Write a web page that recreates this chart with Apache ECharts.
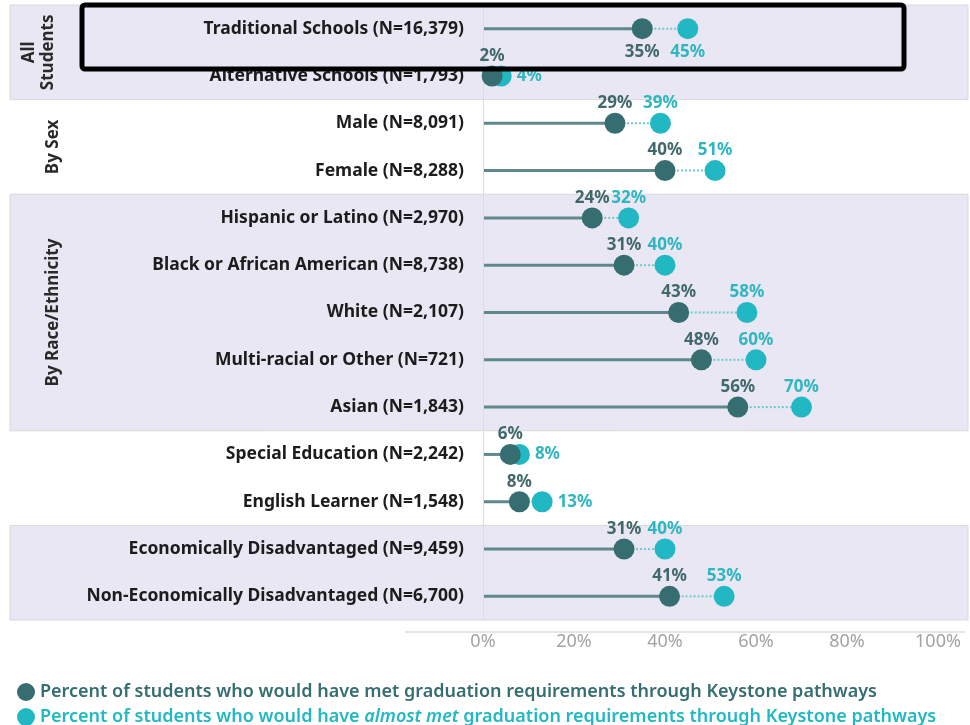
<!DOCTYPE html>
<html>
<head>
<meta charset="utf-8">
<script src="https://cdn.jsdelivr.net/npm/echarts@6/dist/echarts.min.js"></script>
<style>
  html, body { margin: 0; padding: 0; background: #fff; }
  #main { width: 970px; height: 725px; }
</style>
</head>
<body>
<div id="main"></div>
<script>
// rows, top to bottom
const categories = [
    'Traditional Schools (N=16,379)',
    'Alternative Schools (N=1,793)',
    'Male (N=8,091)',
    'Female (N=8,288)',
    'Hispanic or Latino (N=2,970)',
    'Black or African American (N=8,738)',
    'White (N=2,107)',
    'Multi-racial or Other (N=721)',
    'Asian (N=1,843)',
    'Special Education (N=2,242)',
    'English Learner (N=1,548)',
    'Economically Disadvantaged (N=9,459)',
    'Non-Economically Disadvantaged (N=6,700)'
];
const metValues    = [35, 2, 29, 40, 24, 31, 43, 48, 56, 6, 8, 31, 41];
const almostValues = [45, 4, 39, 51, 32, 40, 58, 60, 70, 8, 13, 40, 53];

// row groups (first row, last row, side label)
const groupNames = ['All\nStudents', 'By Sex', 'By Race/Ethnicity', '', ''];
const groupFrom  = [0, 2, 4, 9, 11];
const groupTo    = [1, 3, 8, 10, 12];

const metName = 'Percent of students who would have met graduation requirements through Keystone pathways';
const almostName = 'Percent of students who would have almost met graduation requirements through Keystone pathways';

const cMet = '#356d71';
const cAlmost = '#22b8c3';
const lavender = '#e9e7f3';

let myChart = echarts.init(document.getElementById('main'));

function labelFor(i, which) {
    let gap = almostValues[i] - metValues[i];
    if (i === 0) return {position: 'bottom', distance: 5};
    if (which === 'almost' && gap <= 5) return {position: 'right', distance: 5};
    return {position: 'top', distance: 1};
}

const metData = metValues.map(function (v, i) {
    return {value: [v, i], label: labelFor(i, 'met')};
});
const almostData = almostValues.map(function (v, i) {
    return {value: [v, i], label: labelFor(i, 'almost')};
});

const legendText = {
    fontSize: 18,
    fontWeight: 600,
    fontFamily: 'Noto Sans',
    rich: {
        i: {color: cAlmost, fontStyle: 'italic', fontSize: 18, fontWeight: 600, fontFamily: 'Noto Sans'}
    }
};

myChart.setOption({
    animation: false,
    grid: {left: 483, right: 32, top: 5, bottom: 105},
    xAxis: {
        type: 'value',
        min: 0, max: 100, interval: 20,
        axisLine: {show: false},
        axisTick: {show: false},
        splitLine: {show: false},
        axisLabel: {
            formatter: '{value}%',
            color: '#a3a3a3',
            fontSize: 18,
            fontFamily: 'Noto Sans',
            margin: 13
        }
    },
    yAxis: {
        type: 'category',
        inverse: true,
        data: categories,
        axisTick: {show: false},
        axisLine: {lineStyle: {color: '#dcdcdc', width: 1}},
        axisLabel: {
            color: '#1c1c1c',
            fontSize: 17.5,
            fontWeight: 'bold',
            fontFamily: 'Noto Sans',
            margin: 19
        },
        z: 5
    },
    legend: [
        {
            left: 12, top: 678,
            itemWidth: 18, itemHeight: 18, icon: 'circle',
            data: [{name: metName, textStyle: {color: cMet}}],
            textStyle: legendText
        },
        {
            left: 12, top: 703,
            itemWidth: 18, itemHeight: 18, icon: 'circle',
            data: [{name: almostName, textStyle: {color: cAlmost}}],
            formatter: function (name) {
                return name.replace('almost met', '{i|almost met}');
            },
            textStyle: legendText
        }
    ],
    graphic: [
        {
            type: 'line',
            shape: {x1: 405, y1: 632, x2: 965, y2: 632},
            style: {stroke: '#dddddd', lineWidth: 1.5},
            z: 1
        },
        {
            type: 'rect',
            shape: {x: 82, y: 5, width: 822, height: 64, r: 3},
            style: {fill: 'none', stroke: '#000', lineWidth: 5},
            z: 100
        }
    ],
    series: [
        {
            // group bands + side labels
            type: 'custom',
            silent: true,
            z: 0,
            clip: false,
            data: groupNames.map(function (n, i) { return [i]; }),
            renderItem: function (params, api) {
                let g = api.value(0);
                let h = api.size([0, 1])[1];
                let y0 = api.coord([0, groupFrom[g]])[1] - h / 2;
                let y1 = api.coord([0, groupTo[g]])[1] + h / 2;
                let children = [];
                if (g % 2 === 0) {
                    children.push({
                        type: 'rect',
                        shape: {x: 10, y: y0, width: 958, height: y1 - y0},
                        style: {fill: lavender, stroke: '#d9d9d9', lineWidth: 1}
                    });
                }
                if (groupNames[g]) {
                    children.push({
                        type: 'text',
                        x: groupNames[g].indexOf('\n') >= 0 ? 39 : 53,
                        y: (y0 + y1) / 2,
                        rotation: Math.PI / 2,
                        style: {
                            text: groupNames[g],
                            align: 'center',
                            verticalAlign: 'middle',
                            fill: '#2a2a2a',
                            font: 'bold 17px "Noto Sans"',
                            lineHeight: 19
                        }
                    });
                }
                return {type: 'group', children: children};
            }
        },
        {
            // solid stem 0 -> met
            type: 'bar',
            data: metValues,
            barWidth: 3,
            itemStyle: {color: '#5f888c'},
            silent: true,
            z: 2
        },
        {
            // dotted connector met -> almost
            type: 'custom',
            silent: true,
            z: 3,
            data: metValues.map(function (v, i) { return [v, almostValues[i], i]; }),
            renderItem: function (params, api) {
                let a = api.coord([api.value(0), api.value(2)]);
                let b = api.coord([api.value(1), api.value(2)]);
                return {
                    type: 'line',
                    shape: {x1: a[0], y1: a[1], x2: b[0], y2: b[1]},
                    style: {stroke: '#6ccbd2', lineWidth: 2, lineDash: [2, 2]}
                };
            }
        },
        {
            name: almostName,
            type: 'scatter',
            data: almostData,
            symbolSize: 21,
            itemStyle: {color: cAlmost, opacity: 1},
            z: 4,
            label: {
                show: true,
                formatter: function (p) { return p.value[0] + '%'; },
                color: '#2fb6c0',
                fontSize: 17,
                fontWeight: 'bold',
                fontFamily: 'Noto Sans'
            }
        },
        {
            name: metName,
            type: 'scatter',
            data: metData,
            symbolSize: 21,
            itemStyle: {color: cMet, opacity: 1},
            z: 5,
            label: {
                show: true,
                formatter: function (p) { return p.value[0] + '%'; },
                color: '#41686b',
                fontSize: 17,
                fontWeight: 'bold',
                fontFamily: 'Noto Sans'
            }
        }
    ]
});
</script>
</body>
</html>
